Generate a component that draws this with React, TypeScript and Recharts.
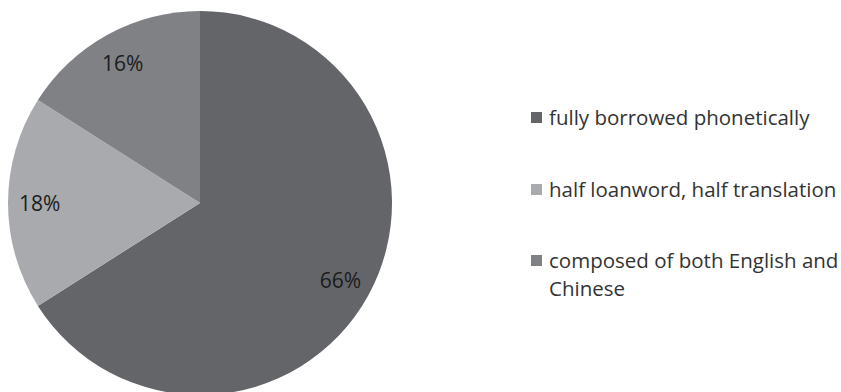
import React from 'react';
import { PieChart, Pie, Cell, Legend } from 'recharts';

const categories = [
  'fully borrowed phonetically',
  'half loanword, half translation',
  'composed of both English and Chinese',
];
const shares = [66, 18, 16];
const colors = ['#646569', '#a8aaad', '#7f8185'];

const data = categories.map((name, i) => ({ name, value: shares[i] }));

const RADIAN = Math.PI / 180;
const FONT = '"Open Sans", "Noto Sans", sans-serif';

const renderLabel = (props: any) => {
  const { cx, cy, midAngle, outerRadius, value } = props;
  const r = outerRadius * 0.835;
  const x = cx + r * Math.cos(-midAngle * RADIAN);
  const y = cy + r * Math.sin(-midAngle * RADIAN);
  return (
    <text x={x} y={y} fill="#1c1c1c" fontSize={21} fontFamily={FONT} textAnchor="middle" dominantBaseline="central">
      {value}%
    </text>
  );
};

const LegendList = () => (
  <div style={{ fontFamily: FONT, fontSize: 20.5, color: '#333', width: 310 }}>
    {categories.map((name, i) => (
      <div key={name} style={{ display: 'flex', alignItems: 'flex-start', marginBottom: i < categories.length - 1 ? 43.5 : 0, lineHeight: '28px' }}>
        <span style={{ display: 'inline-block', width: 11, height: 11, background: colors[i], marginTop: 9, marginRight: 7, flexShrink: 0 }} />
        <span style={{ width: 292 }}>{name}</span>
      </div>
    ))}
  </div>
);

export default function App() {
  return (
    <div style={{ position: 'absolute', left: 0, top: 0, width: 841, height: 392, background: '#fff' }}>
      <PieChart width={841} height={392} margin={{ top: 0, right: 0, bottom: 0, left: 0 }}>
        <Pie
          data={data}
          dataKey="value"
          nameKey="name"
          cx={200}
          cy={203}
          outerRadius={192}
          startAngle={90}
          endAngle={-270}
          stroke="none"
          label={renderLabel}
          labelLine={false}
          isAnimationActive={false}
        >
          {data.map((d, i) => (
            <Cell key={d.name} fill={colors[i]} />
          ))}
        </Pie>
        <Legend
          layout="vertical"
          verticalAlign="top"
          align="right"
          wrapperStyle={{ left: 531, top: 103, width: 310 }}
          content={() => <LegendList />}
        />
      </PieChart>
    </div>
  );
}
